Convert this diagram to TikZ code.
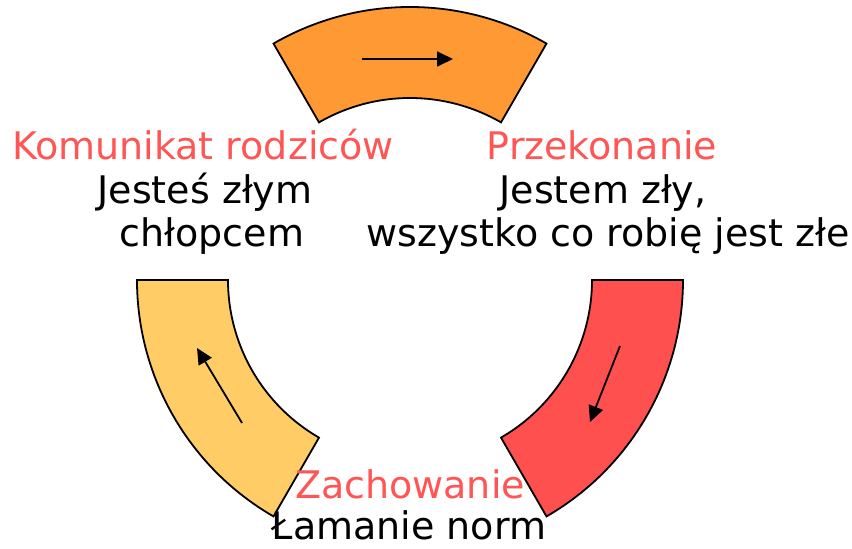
\documentclass[tikz,border=0pt]{standalone}
\usepackage{fontspec}
\setmainfont{DejaVu Sans}
\usetikzlibrary{arrows.meta,calc}
\definecolor{segorange}{RGB}{255,153,51}
\definecolor{segyellow}{RGB}{255,204,102}
\definecolor{segred}{RGB}{255,80,80}
\definecolor{labred}{RGB}{255,85,85}
\begin{document}
\begin{tikzpicture}[x=1pt,y=1pt,
  seg/.style={draw=black,line width=1.8pt,line join=miter},
  flow/.style={line width=1.8pt,-{Triangle[length=16pt,width=15pt]}},
  title/.style={text=labred,anchor=base,inner sep=0pt,font=\fontsize{38}{44}\selectfont},
  body/.style={text=black,anchor=base,inner sep=0pt,font=\fontsize{38}{44}\selectfont}]
\useasboundingbox (0,0) rectangle (852,549);
\coordinate (C) at (410,269);
% top segment
\path[seg,fill=segorange] ($(C)+(60:273pt)$) arc[start angle=60,end angle=120,radius=273pt]
  -- ($(C)+(120:182pt)$) arc[start angle=120,end angle=60,radius=182pt] -- cycle;
% right segment
\path[seg,fill=segred] ($(C)+(0:273pt)$) arc[start angle=0,end angle=-60,radius=273pt]
  -- ($(C)+(-60:182pt)$) arc[start angle=-60,end angle=0,radius=182pt] -- cycle;
% left segment
\path[seg,fill=segyellow] ($(C)+(180:273pt)$) arc[start angle=180,end angle=240,radius=273pt]
  -- ($(C)+(240:182pt)$) arc[start angle=240,end angle=180,radius=182pt] -- cycle;
% arrows
\coordinate (a1s) at (362,490); \coordinate (a1e) at (453,490);
\coordinate (a2s) at (620,203); \coordinate (a2e) at (590,127);
\coordinate (a3s) at (242,126); \coordinate (a3e) at (197,201);
\draw[flow] (a1s) -- (a1e);
\draw[flow] (a2s) -- (a2e);
\draw[flow] (a3s) -- (a3e);
% labels
\node[title] (t1) at (203,389) {Komunikat rodziców};
\node[body] (b1a) at (205,345) {Jesteś złym};
\node[body] (b1b) at (212,302) {chłopcem};
\node[title] (t2) at (602,389) {Przekonanie};
\node[body] (b2a) at (603,345) {Jestem zły,};
\node[body] (b2b) at (608,302) {wszystko co robię jest złe};
\node[title] (t3) at (410,50) {Zachowanie};
\node[body,text depth=0pt] (b3a) at (409,9) {Łamanie norm};
\end{tikzpicture}
\end{document}
